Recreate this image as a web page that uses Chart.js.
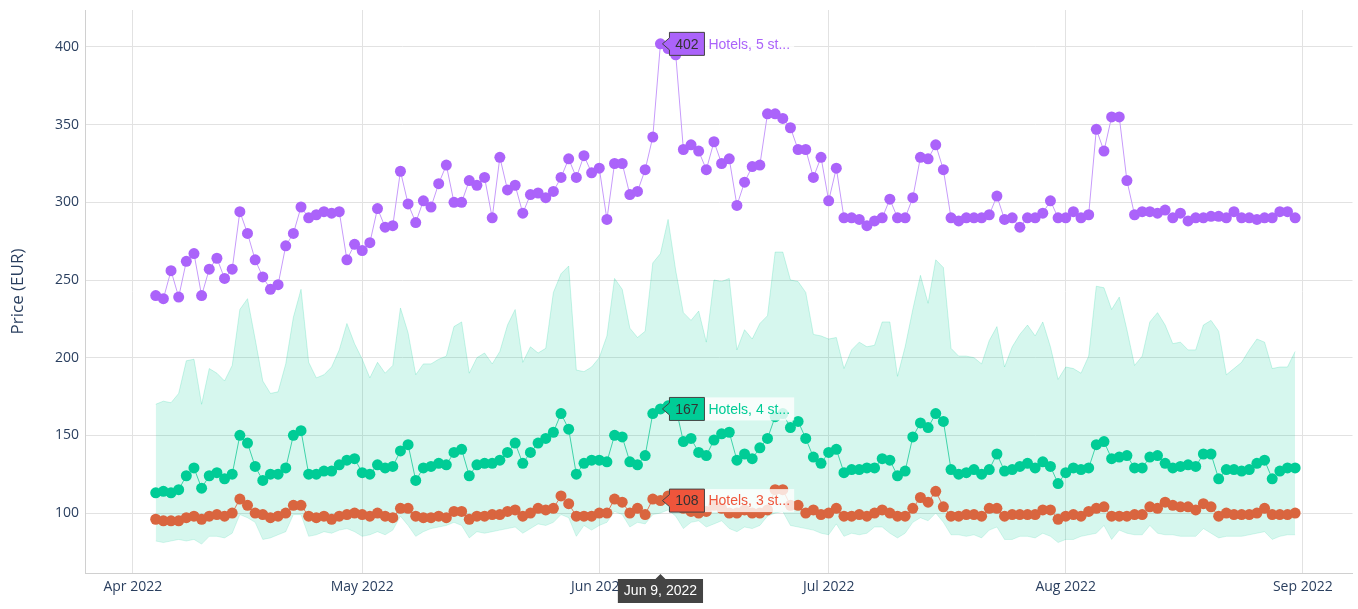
<!DOCTYPE html>
<html>
<head>
<meta charset="utf-8">
<script src="https://cdn.jsdelivr.net/npm/chart.js@4.4.1/dist/chart.umd.min.js"></script>
<style>
  html, body { margin: 0; padding: 0; background: #fff; }
  #wrap { width: 1358px; height: 609px; position: relative; }
</style>
</head>
<body>
<div id="wrap"><canvas id="priceChart" width="1358" height="609"></canvas></div>
<script>
// daily series, first day 2022-04-04, last day 2022-08-31
const firstDay = [2022, 3, 4];
const seriesNames = ['Hotels, 5 stars', 'Hotels, 4 stars', 'Hotels, 3 stars'];

const hotels5 = [
  240, 238, 256, 239, 262, 267, 240, 257, 264, 251, 257, 294, 280, 263, 252, 244, 247, 272, 280, 297, 290, 292, 294, 293, 294, 263, 273,
  269, 274, 296, 284, 285, 320, 299, 287, 301, 297, 312, 324, 300, 300, 314, 311, 316, 290, 329, 308, 311, 293, 305, 306, 303, 307, 316, 328, 316, 330, 319,
  322, 289, 325, 325, 305, 307, 321, 342, 402, 399, 395, 334, 337, 333, 321, 339, 325, 328, 298, 313, 323, 324, 357, 357, 354, 348, 334, 334, 316, 329,
  301, 322, 290, 290, 289, 285, 288, 290, 302, 290, 290, 303, 329, 328, 337, 321, 290, 288, 290, 290, 290, 292, 304, 289, 290, 284, 290, 290, 293, 301, 290,
  290, 294, 290, 292, 347, 333, 355, 355, 314, 292, 294, 294, 293, 295, 290, 293, 288, 290, 290, 291, 291, 290, 294, 290, 290, 289, 290, 290, 294, 294, 290
];
const hotels4 = [
  113, 114, 113, 115, 124, 129, 116, 124, 126, 122, 125, 150, 145, 130, 121, 125, 125, 129, 150, 153, 125, 125, 127, 127, 131, 134, 135,
  126, 125, 131, 129, 130, 140, 144, 121, 129, 130, 132, 131, 139, 141, 124, 131, 132, 132, 134, 139, 145, 132, 139, 145, 148, 152, 164, 154, 125, 132, 134,
  134, 133, 150, 149, 133, 131, 137, 164, 167, 169, 168, 146, 148, 139, 137, 147, 151, 152, 134, 138, 135, 142, 148, 162, 164, 155, 159, 148, 136, 132,
  139, 141, 126, 128, 128, 129, 129, 135, 134, 124, 127, 149, 158, 155, 164, 159, 128, 125, 126, 128, 125, 128, 138, 127, 128, 130, 132, 129, 133, 130, 119,
  126, 129, 128, 129, 144, 146, 135, 136, 137, 129, 129, 136, 137, 132, 129, 130, 131, 130, 138, 138, 122, 128, 128, 127, 128, 132, 134, 122, 127, 129, 129
];
const hotels3 = [
  96, 95, 95, 95, 97, 98, 96, 98, 99, 98, 100, 109, 105, 100, 99, 97, 98, 100, 105, 105, 98, 97, 98, 96, 98, 99, 100,
  99, 98, 100, 98, 97, 103, 103, 98, 97, 97, 98, 97, 101, 101, 96, 98, 98, 99, 99, 101, 102, 98, 100, 103, 102, 103, 111, 106, 98, 98, 98,
  100, 100, 109, 107, 100, 103, 99, 109, 108, 111, 106, 103, 101, 100, 101, 105, 103, 100, 100, 102, 100, 100, 102, 115, 115, 105, 105, 100, 102, 99,
  100, 103, 98, 98, 99, 98, 100, 102, 100, 98, 98, 103, 110, 107, 114, 104, 98, 98, 99, 99, 98, 103, 103, 98, 99, 99, 99, 99, 102, 102, 96,
  98, 99, 98, 101, 103, 104, 98, 98, 98, 99, 99, 104, 103, 107, 105, 104, 104, 102, 106, 104, 98, 100, 99, 99, 99, 100, 103, 99, 99, 99, 100
];
const rangeLow = [
  82, 81, 82, 83, 82, 83, 80, 85, 85, 84, 87, 99, 97, 94, 83, 84, 86, 88, 99, 99, 85, 86, 88, 87, 89, 90, 88,
  85, 86, 88, 86, 89, 98, 92, 85, 88, 90, 91, 92, 94, 92, 84, 88, 87, 88, 89, 90, 91, 87, 90, 93, 92, 94, 99, 97, 85, 92, 89,
  92, 94, 101, 99, 91, 94, 93, 99, 100, 102, 98, 90, 94, 95, 91, 93, 95, 90, 88, 91, 90, 92, 98, 100, 101, 92, 91, 90, 89, 87,
  86, 93, 85, 87, 86, 87, 91, 91, 87, 84, 87, 94, 97, 95, 100, 94, 86, 86, 85, 86, 84, 89, 91, 83, 83, 85, 85, 84, 87, 85, 81,
  83, 83, 85, 86, 87, 92, 83, 89, 87, 86, 86, 92, 87, 86, 86, 85, 85, 85, 90, 87, 84, 85, 85, 85, 86, 87, 88, 83, 85, 86, 86
];
const rangeHigh = [
  170, 172, 171, 177, 198, 199, 170, 193, 190, 185, 195, 231, 238, 212, 185, 177, 178, 196, 226, 244, 197, 187, 189, 194, 205, 222, 209,
  199, 187, 197, 190, 195, 232, 216, 189, 196, 196, 199, 201, 220, 223, 190, 200, 203, 196, 204, 221, 231, 197, 207, 203, 206, 242, 254, 259, 192, 191, 194,
  200, 214, 251, 244, 219, 213, 217, 261, 267, 289, 256, 229, 224, 230, 210, 250, 249, 251, 205, 218, 212, 222, 227, 268, 268, 250, 249, 242, 215, 214,
  212, 213, 193, 205, 210, 207, 208, 223, 223, 188, 207, 231, 253, 235, 263, 258, 206, 201, 201, 200, 196, 211, 220, 194, 207, 215, 221, 214, 223, 207, 186,
  194, 193, 190, 201, 246, 245, 231, 239, 218, 195, 201, 223, 229, 221, 209, 210, 205, 205, 221, 224, 217, 189, 193, 197, 205, 212, 210, 193, 194, 194, 204
];
const yTicks = [100, 150, 200, 250, 300, 350, 400];
const xTickMonths = [[2022, 3], [2022, 4], [2022, 5], [2022, 6], [2022, 7], [2022, 8]];
const hoverDate = 'Jun 9, 2022';

// x axis runs in days counted from Apr 1 2022
const origin = new Date(2022, 3, 1);
const dayMs = 86400000;
function dayOf(y, m, d) {
  return Math.round((new Date(y, m, d) - origin) / dayMs);
}
const startOffset = dayOf(firstDay[0], firstDay[1], firstDay[2]);
const toPoints = arr => arr.map((v, i) => ({ x: startOffset + i, y: v }));
const xTicks = xTickMonths.map(m => dayOf(m[0], m[1], 1));
const monthNames = ['Jan', 'Feb', 'Mar', 'Apr', 'May', 'Jun', 'Jul', 'Aug', 'Sep', 'Oct', 'Nov', 'Dec'];
const hoverDay = dayOf(2022, 5, 9);
const hoverIdx = hoverDay - startOffset;

const colors = ['#AB63FA', '#00CC96', '#EF553B'];
const markerColors = ['#AB63FA', '#00CC96', '#D9653F'];
const lineColors = ['#C79BFB', '#3FD3A9', '#E0795A'];

// hover labels cut names short like the original
const shortName = n => n.slice(0, 12) + '...';

const hoverPlugin = {
  id: 'hoverLabels',
  afterDraw(chart) {
    const ctx = chart.ctx;
    const xs = chart.scales.x, ys = chart.scales.y;
    const px = xs.getPixelForValue(hoverDay);
    const series = [hotels5, hotels4, hotels3];
    ctx.save();
    series.forEach((arr, s) => {
      const val = arr[hoverIdx];
      const py = ys.getPixelForValue(val);
      const bx = px + 9, bw = 35, bh = 23;
      ctx.font = '14px "Liberation Sans", Arial, sans-serif';
      const name = shortName(seriesNames[s]);
      const nw = ctx.measureText(name).width;
      ctx.fillStyle = 'rgba(255,255,255,0.8)';
      ctx.fillRect(bx + bw, py - bh / 2, nw + 8, bh);
      ctx.fillStyle = colors[s];
      ctx.textAlign = 'left';
      ctx.textBaseline = 'middle';
      ctx.fillText(name, bx + bw + 4, py + 1);
      ctx.beginPath();
      ctx.moveTo(px + 2, py);
      ctx.lineTo(bx, py - 6);
      ctx.lineTo(bx, py - bh / 2);
      ctx.lineTo(bx + bw, py - bh / 2);
      ctx.lineTo(bx + bw, py + bh / 2);
      ctx.lineTo(bx, py + bh / 2);
      ctx.lineTo(bx, py + 6);
      ctx.closePath();
      ctx.fillStyle = colors[s];
      ctx.fill();
      ctx.strokeStyle = '#444';
      ctx.lineWidth = 1;
      ctx.stroke();
      ctx.fillStyle = '#333';
      ctx.textAlign = 'center';
      ctx.fillText(String(val), bx + bw / 2, py + 1);
    });
    // date label under the axis
    const top = chart.chartArea.bottom + 6;
    ctx.font = '14px "Liberation Sans", Arial, sans-serif';
    const tw = ctx.measureText(hoverDate).width + 12;
    ctx.beginPath();
    ctx.moveTo(px, top - 5);
    ctx.lineTo(px + 5, top);
    ctx.lineTo(px + tw / 2, top);
    ctx.lineTo(px + tw / 2, top + 24);
    ctx.lineTo(px - tw / 2, top + 24);
    ctx.lineTo(px - tw / 2, top);
    ctx.lineTo(px - 5, top);
    ctx.closePath();
    ctx.fillStyle = '#444';
    ctx.fill();
    ctx.fillStyle = '#fff';
    ctx.textAlign = 'center';
    ctx.textBaseline = 'middle';
    ctx.fillText(hoverDate, px, top + 12.5);
    ctx.restore();
  }
};

const lineSet = (s, arr) => ({
  label: seriesNames[s],
  data: toPoints(arr),
  borderColor: lineColors[s],
  borderWidth: 1,
  pointRadius: 5.5,
  pointBorderWidth: 0,
  pointBackgroundColor: markerColors[s],
  fill: false,
  tension: 0,
  order: s
});

new Chart(document.getElementById('priceChart').getContext('2d'), {
  type: 'line',
  data: {
    datasets: [
      lineSet(0, hotels5),
      lineSet(1, hotels4),
      lineSet(2, hotels3),
      {
        label: 'low',
        data: toPoints(rangeLow),
        borderColor: 'rgba(0,204,150,0.15)',
        borderWidth: 1,
        pointRadius: 0,
        fill: false,
        order: 10
      },
      {
        label: 'high',
        data: toPoints(rangeHigh),
        borderColor: 'rgba(0,204,150,0.2)',
        borderWidth: 1,
        pointRadius: 0,
        backgroundColor: 'rgba(0,204,150,0.16)',
        fill: '-1',
        order: 9
      }
    ]
  },
  options: {
    responsive: false,
    animation: false,
    layout: { padding: { top: 10, right: -6, left: 0, bottom: 0 } },
    plugins: {
      legend: { display: false },
      tooltip: { enabled: false }
    },
    scales: {
      x: {
        type: 'linear',
        min: -6.25,
        max: 159.5,
        afterFit(scale) {
          scale.height = 36;
          scale.paddingLeft = 0;
          scale.paddingRight = 0;
        },
        afterBuildTicks(scale) { scale.ticks = xTicks.map(v => ({ value: v })); },
        grid: { color: '#e2e2e2', drawTicks: false },
        border: { color: '#d0d0d0' },
        ticks: {
          padding: 6,
          maxRotation: 0,
          color: '#2a3f5f',
          font: { family: '"Open Sans", sans-serif', size: 14 },
          callback: v => {
            const d = new Date(origin.getTime() + v * dayMs);
            return monthNames[d.getMonth()] + ' ' + d.getFullYear();
          }
        }
      },
      y: {
        min: 61.4,
        max: 423.8,
        afterFit(scale) {
          scale.width = 85;
          scale.paddingTop = 0;
          scale.paddingBottom = 0;
        },
        afterBuildTicks(scale) { scale.ticks = yTicks.map(v => ({ value: v })); },
        grid: { color: '#e2e2e2', drawTicks: false },
        border: { color: '#d0d0d0' },
        title: {
          display: true,
          text: 'Price (EUR)',
          color: '#2a3f5f',
          font: { family: '"Open Sans", sans-serif', size: 17 },
          padding: { top: 8, bottom: 0 }
        },
        ticks: {
          padding: 6,
          color: '#2a3f5f',
          font: { family: '"Open Sans", sans-serif', size: 14 }
        }
      }
    }
  },
  plugins: [hoverPlugin]
});
</script>
</body>
</html>
